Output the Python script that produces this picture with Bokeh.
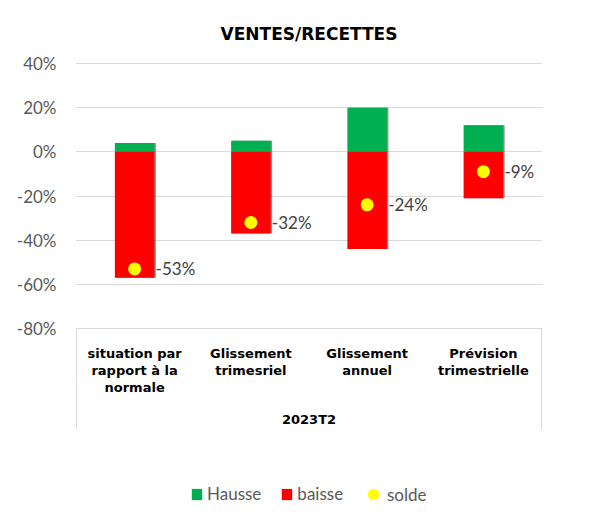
from bokeh.plotting import figure
from bokeh.models import (ColumnDataSource, FixedTicker, PrintfTickFormatter,
                          Legend, LegendItem, Range1d)
from bokeh.core.properties import value
from bokeh.embed import file_html
from bokeh.resources import INLINE

title = "VENTES/RECETTES"
group = "2023T2"
categories = ["situation par\nrapport à la\nnormale", "Glissement\ntrimesriel",
              "Glissement\nannuel", "Prévision\ntrimestrielle"]
hausse = [4, 5, 20, 12]
baisse = [-57, -37, -44, -21]
solde = [-53, -32, -24, -9]
y_ticks = [-80, -60, -40, -20, 0, 20, 40]

n = len(categories)
xs = [i + 0.5 for i in range(n)]

# pixel scale: 120 units -> 265 px ; 40% line sits at y=63 px from the top
PX = 265 / 120.0
W, H = 609, 513
left_border, right_border = 75, 67
y_end = 40 + 63 / PX
y_start = y_end - H / PX
XPX = 116.5  # px per category
shadow_dx = 1.5 / XPX

src = ColumnDataSource(dict(x=xs, xsh=[x + shadow_dx for x in xs], cat=categories,
                            hausse=hausse, baisse=baisse, solde=solde,
                            lbl=[f"{v}%" for v in solde], ybase=[y_ticks[0]] * n))

p = figure(width=W, height=H, output_backend="svg", toolbar_location=None,
           x_range=Range1d(-1 / XPX, n + 1 / XPX), y_range=Range1d(y_start, y_end),
           min_border_left=left_border, min_border_right=right_border,
           min_border_top=0, min_border_bottom=0)
p.outline_line_color = None
p.background_fill_color = "white"
p.border_fill_color = "white"

# title
p.text(x=[n / 2], y=[y_ticks[-1]], text=[title], y_offset=-30,
       text_baseline="middle", text_align="center", text_font=value("DejaVu Sans"),
       text_font_size="17px", text_font_style="bold", text_color="black")

# soft shadows on the right edge of bars
p.vbar(x="xsh", top="hausse", bottom=0, width=0.34, source=src,
       fill_color="#303030", fill_alpha=0.55, line_color=None)
p.vbar(x="xsh", top=0, bottom="baisse", width=0.34, source=src,
       fill_color="#303030", fill_alpha=0.55, line_color=None)
r_h = p.vbar(x="x", top="hausse", bottom=0, width=0.34, source=src,
             fill_color="#00B050", line_color=None)
r_b = p.vbar(x="x", top=0, bottom="baisse", width=0.34, source=src,
             fill_color="#FF0000", line_color=None)
r_s = p.scatter(x="x", y="solde", source=src, size=13, fill_color="#FFFF00",
                line_color=None)
p.text(x="x", y="solde", text="lbl", source=src, x_offset=21,
       text_baseline="middle", text_align="left", text_font_size="17px",
       text_font=value("Lato"), text_color="#404040")

# category labels (axis-like) below the -80% line
p.text(x="x", y="ybase", text="cat", source=src, y_offset=17,
       text_baseline="top", text_align="center", text_font=value("DejaVu Sans"),
       text_font_size="13px", text_font_style="bold", text_color="black",
       text_line_height=1.16)
p.text(x=[n / 2], y=[y_ticks[0]], text=[group], y_offset=91,
       text_baseline="middle", text_align="center", text_font=value("DejaVu Sans"),
       text_font_size="13px", text_font_style="bold", text_color="black")
# category box side lines
p.segment(x0=[0, n], y0=[y_ticks[0]] * 2, x1=[0, n], y1=[y_ticks[0] - 101 / PX] * 2,
          line_color="#D9D9D9", line_width=1)

# y axis
p.yaxis.ticker = FixedTicker(ticks=y_ticks)
p.yaxis.formatter = PrintfTickFormatter(format="%d%%")
p.yaxis.axis_line_color = None
p.yaxis.major_tick_line_color = None
p.yaxis.minor_tick_line_color = None
p.yaxis.major_tick_out = 0
p.yaxis.major_label_standoff = 19
p.yaxis.major_label_text_font = "Lato"
p.yaxis.major_label_text_font_size = "17px"
p.yaxis.major_label_text_color = "#595959"
p.ygrid.ticker = FixedTicker(ticks=y_ticks)
p.ygrid.grid_line_color = "#D9D9D9"
p.xgrid.grid_line_color = None
p.xaxis.visible = False

common = dict(orientation="horizontal", border_line_color=None,
              background_fill_alpha=0, label_text_font="Lato",
              label_text_font_size="17px", label_text_color="#595959",
              padding=0, margin=0, label_height=20)
legend_bars = Legend(items=[LegendItem(label="Hausse", renderers=[r_h]),
                            LegendItem(label="baisse", renderers=[r_b])],
                     location=(115, 9), glyph_width=13, glyph_height=14,
                     label_standoff=4, spacing=19, **common)
legend_dot = Legend(items=[LegendItem(label="solde", renderers=[r_s])],
                    location=(284, 4), glyph_width=28, glyph_height=30,
                    label_standoff=0, spacing=0, **common)
p.add_layout(legend_bars, "center")
p.add_layout(legend_dot, "center")

open("out.html", "w").write(file_html(p, INLINE))
